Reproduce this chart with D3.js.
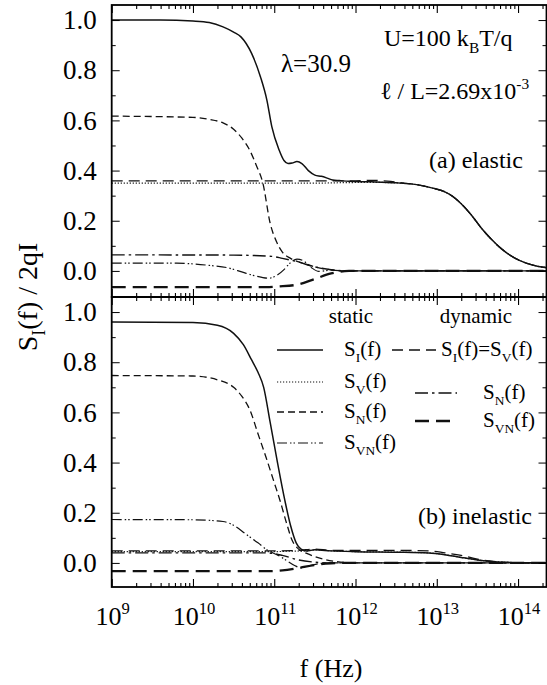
<!DOCTYPE html>
<meta charset="utf-8">
<script src="https://d3js.org/d3.v7.min.js"></script>
<body style="margin:0;background:#fff">
<div id="chart"></div>
<script>

// frequency decades on the x axis (log10 of f in Hz)
var decades = [9, 10, 11, 12, 13, 14];
var yTicks = [0, 0.2, 0.4, 0.6, 0.8, 1.0];

// ---- (a) elastic : points are [log10 f, S/2qI] ----
var aStaticSI = [[9,1.0],[9.6,1.0],[10.0,0.996],[10.2,0.99],[10.37,0.973],[10.5,0.952],[10.59,0.933],[10.72,0.868],[10.83,0.774],[10.91,0.68],[10.97,0.575],[11.06,0.482],[11.12,0.44],[11.17,0.428],[11.22,0.43],[11.28,0.436],[11.34,0.428],[11.42,0.40],[11.5,0.382],[11.58,0.377],[11.65,0.37],[11.72,0.362],[11.8,0.36],[11.92,0.357],[12.2,0.355],[12.5,0.351],[12.77,0.343],[12.95,0.33],[13.1,0.315],[13.2,0.296],[13.3,0.268],[13.42,0.225],[13.55,0.17],[13.66,0.13],[13.8,0.087],[13.95,0.053],[14.1,0.031],[14.25,0.018],[14.35,0.013]];
var aStaticSV = [[9,0.35],[11.5,0.35],[11.9,0.352],[12.2,0.353],[12.5,0.351],[12.77,0.343],[12.95,0.33],[13.1,0.315],[13.2,0.296],[13.3,0.268],[13.42,0.225],[13.55,0.17],[13.66,0.13],[13.8,0.087],[13.95,0.053],[14.1,0.031],[14.25,0.018],[14.35,0.013]];
var aStaticSN = [[9,0.617],[10.0,0.612],[10.2,0.604],[10.37,0.59],[10.5,0.565],[10.6,0.53],[10.7,0.48],[10.78,0.42],[10.86,0.35],[10.95,0.19],[11.03,0.115],[11.1,0.075],[11.2,0.05],[11.33,0.033],[11.44,0.022],[11.55,0.012],[11.7,0.004],[11.85,0.0],[14.35,0.0]];
var aStaticSVN = [[9,0.031],[9.8,0.031],[10.0,0.028],[10.2,0.022],[10.42,0.013],[10.6,-0.004],[10.72,-0.016],[10.85,-0.026],[10.93,-0.029],[11.02,-0.02],[11.12,0.005],[11.19,0.03],[11.28,0.047],[11.36,0.04],[11.45,0.015],[11.55,-0.002],[11.7,0.003],[11.9,0.0],[14.35,0.0]];
var aDynSI = [[9,0.359],[12.0,0.359],[12.2,0.361],[12.39,0.358],[12.6,0.35],[12.77,0.343],[12.95,0.33],[13.1,0.315],[13.2,0.296],[13.3,0.268],[13.42,0.225],[13.55,0.17],[13.66,0.13],[13.8,0.087],[13.95,0.053],[14.1,0.031],[14.25,0.018],[14.35,0.013]];
var aDynSN = [[9,0.064],[10.5,0.063],[10.97,0.058],[11.1,0.05],[11.28,0.037],[11.49,0.017],[11.7,0.005],[11.9,0.0],[14.35,0.0]];
var aDynSVN = [[9,-0.065],[10.9,-0.065],[11.05,-0.062],[11.28,-0.055],[11.49,-0.033],[11.7,-0.01],[11.92,0.0],[14.35,0.0]];

// ---- (b) inelastic ----
var bStaticSI = [[9,0.96],[10.0,0.958],[10.3,0.947],[10.5,0.915],[10.62,0.87],[10.72,0.81],[10.8,0.76],[10.87,0.7],[10.95,0.56],[11.04,0.4],[11.13,0.25],[11.2,0.15],[11.27,0.08],[11.33,0.055],[11.4,0.048],[11.5,0.052],[11.7,0.048],[12.0,0.045],[12.5,0.043],[12.9,0.04],[13.1,0.033],[13.3,0.022],[13.5,0.012],[13.7,0.005],[14.0,0.001],[14.35,0.0]];
var bStaticSV = [[9,0.045],[11.0,0.045],[11.2,0.047],[11.4,0.048],[11.5,0.052],[11.7,0.048],[12.0,0.045],[12.5,0.043],[12.9,0.04],[13.1,0.033],[13.3,0.022],[13.5,0.012],[13.7,0.005],[14.0,0.001],[14.35,0.0]];
var bStaticSN = [[9,0.747],[10.0,0.745],[10.3,0.73],[10.5,0.70],[10.6,0.665],[10.7,0.61],[10.8,0.515],[10.9,0.42],[11.0,0.32],[11.07,0.25],[11.15,0.16],[11.22,0.09],[11.3,0.055],[11.4,0.038],[11.55,0.02],[11.75,0.006],[12.0,0.0],[14.35,0.0]];
var bStaticSVN = [[9,0.173],[10.0,0.172],[10.37,0.165],[10.5,0.15],[10.65,0.115],[10.8,0.08],[10.92,0.05],[11.05,0.03],[11.15,0.01],[11.25,-0.01],[11.33,-0.02],[11.42,-0.012],[11.55,-0.003],[11.7,0.0],[14.35,0.0]];
var bDynSI = [[9,0.048],[11.0,0.048],[11.3,0.05],[11.5,0.055],[11.7,0.05],[12.5,0.05],[12.9,0.048],[13.1,0.04],[13.3,0.03],[13.5,0.015],[13.7,0.006],[14.0,0.001],[14.35,0.0]];
var bDynSN = [[9,0.04],[10.9,0.04],[11.1,0.03],[11.3,0.012],[11.5,0.003],[11.7,0.0],[14.35,0.0]];
var bDynSVN = [[9,-0.033],[10.95,-0.033],[11.1,-0.03],[11.3,-0.02],[11.5,-0.008],[11.7,-0.002],[11.9,0.0],[14.35,0.0]];

// line styles: static solid/dotted/dashed/dash-dot-dot, dynamic dashed/dash-dot/long dash
var styles = {
  sSI:  {dash: null, w: 1.5},
  sSV:  {dash: "1.2,1.8", w: 1.2},
  sSN:  {dash: "7,4", w: 1.3},
  sSVN: {dash: "10,3,1.5,2,1.5,3", w: 1.2},
  dSI:  {dash: "11,6", w: 1.3},
  dSN:  {dash: "13,4,2.5,4", w: 1.4},
  dSVN: {dash: "14,7", w: 2.3}
};

var FONT = "Liberation Serif";
var W = 547, H = 685;
var left = 111.7, right = 546.5;

var svg = d3.select("#chart").append("svg")
  .attr("width", W).attr("height", H);

var x = d3.scaleLog()
  .domain([1e9, Math.pow(10, 14.35)])
  .range([left, right]);

var panels = [
  {top: 5, bottom: 297, dom: [-0.104, 1.06], key: "a",
   curves: [["dSVN", aDynSVN], ["dSN", aDynSN], ["sSVN", aStaticSVN], ["sSV", aStaticSV], ["sSN", aStaticSN], ["dSI", aDynSI], ["sSI", aStaticSI]]},
  {top: 297, bottom: 587, dom: [-0.096, 1.06], key: "b",
   curves: [["dSVN", bDynSVN], ["dSN", bDynSN], ["sSVN", bStaticSVN], ["sSV", bStaticSV], ["sSN", bStaticSN], ["dSI", bDynSI], ["sSI", bStaticSI]]}
];

// minor tick positions on the log axis
var minorX = [];
decades.concat([8]).forEach(function(d) {
  for (var k = 2; k <= 9; k++) {
    var v = k * Math.pow(10, d);
    if (v > x.domain()[0] && v < x.domain()[1]) minorX.push(v);
  }
});
var majorX = decades.map(function(d) { return Math.pow(10, d); });

panels.forEach(function(p) {
  var y = d3.scaleLinear().domain(p.dom).range([p.bottom, p.top]);
  var g = svg.append("g");

  var clipId = "clip" + p.key;
  g.append("clipPath").attr("id", clipId).append("rect")
    .attr("x", left).attr("y", p.top).attr("width", right - left).attr("height", p.bottom - p.top);

  var line = d3.line()
    .x(function(d) { return x(Math.pow(10, d[0])); })
    .y(function(d) { return y(d[1]); })
    .curve(d3.curveMonotoneX);

  g.append("g").attr("clip-path", "url(#" + clipId + ")")
    .selectAll("path").data(p.curves).enter().append("path")
      .attr("d", function(c) { return line(c[1]); })
      .attr("fill", "none")
      .attr("stroke", "#111")
      .attr("stroke-width", function(c) { return styles[c[0]].w; })
      .attr("stroke-dasharray", function(c) { return styles[c[0]].dash; });

  // x ticks, inward on top and bottom
  function xAxis(gen, size, vals, yy) {
    g.append("g").attr("transform", "translate(0," + yy + ")")
      .call(gen(x).tickValues(vals).tickSize(size).tickFormat(""))
      .call(function(s) { s.select(".domain").remove(); s.selectAll("line").attr("stroke-width", 1.1); });
  }
  xAxis(d3.axisBottom, -8, majorX, p.bottom);
  xAxis(d3.axisBottom, -4, minorX, p.bottom);
  xAxis(d3.axisTop, -8, majorX, p.top);
  xAxis(d3.axisTop, -4, minorX, p.top);

  // y ticks
  var minorY = [-0.1, 0.1, 0.3, 0.5, 0.7, 0.9].filter(function(v) { return v > p.dom[0]; });
  g.append("g").attr("transform", "translate(" + left + ",0)")
    .call(d3.axisLeft(y).tickValues(yTicks).tickSize(-8).tickPadding(15).tickFormat(d3.format(".1f")))
    .call(function(s) {
      s.select(".domain").remove();
      s.attr("font-family", FONT).attr("font-size", 27);
      s.selectAll("text").attr("font-family", FONT).style("font-size", "27px");
    });
  g.append("g").attr("transform", "translate(" + left + ",0)")
    .call(d3.axisLeft(y).tickValues(minorY).tickSize(-4).tickFormat(""))
    .call(function(s) { s.select(".domain").remove(); });
  g.append("g").attr("transform", "translate(" + right + ",0)")
    .call(d3.axisRight(y).tickValues(yTicks).tickSize(-8).tickFormat(""))
    .call(function(s) { s.select(".domain").remove(); });
  g.append("g").attr("transform", "translate(" + right + ",0)")
    .call(d3.axisRight(y).tickValues(minorY).tickSize(-4).tickFormat(""))
    .call(function(s) { s.select(".domain").remove(); });

  g.append("rect")
    .attr("x", left).attr("y", p.top)
    .attr("width", right - left).attr("height", p.bottom - p.top)
    .attr("fill", "none").attr("stroke", "#000").attr("stroke-width", 1.8);
});

// text with sub/superscripts: parts = [[string, "sub"|"sup"|undefined], ...]
function rich(x0, y0, parts, size, anchor, parent) {
  var t = (parent || svg).append("text")
    .attr("x", x0).attr("y", y0)
    .attr("font-family", FONT)
    .style("font-size", size + "px")
    .attr("text-anchor", anchor || "start");
  var shift = 0;
  parts.forEach(function(pt) {
    var target = pt[1] === "sub" ? 0.3 * size : pt[1] === "sup" ? -0.42 * size : 0;
    t.append("tspan")
      .attr("dy", target - shift)
      .style("font-size", pt[1] ? (0.64 * size) + "px" : size + "px")
      .text(pt[0]);
    shift = target;
  });
  return t;
}

// x tick labels 10^n
decades.forEach(function(d) {
  rich(x(Math.pow(10, d)) + 1, 625, [["10"], [String(d), "sup"]], 26, "middle");
});

rich(331, 677, [["f (Hz)"]], 26, "middle");

var yl = svg.append("g").attr("transform", "translate(37,297) rotate(-90)");
rich(0, 0, [["S"], ["I", "sub"], ["(f) / 2qI"]], 28, "middle", yl);

// annotations panel (a)
rich(281, 72, [["λ=30.9"]], 25);
rich(384, 46, [["U=100 k"], ["B", "sub"], ["T/q"]], 24);
rich(380, 99, [["ℓ / L=2.69x10"], ["-3", "sup"]], 24);
rich(429, 168, [["(a) elastic"]], 24);
rich(418, 524, [["(b) inelastic"]], 24);

// legend in panel (b)
var legFont = 21;
rich(351, 323, [["static"]], legFont, "middle");
rich(476, 323, [["dynamic"]], legFont, "middle");

var legStatic = [
  ["sSI", 350, [["S"], ["I", "sub"], ["(f)"]]],
  ["sSV", 382, [["S"], ["V", "sub"], ["(f)"]]],
  ["sSN", 412, [["S"], ["N", "sub"], ["(f)"]]],
  ["sSVN", 443, [["S"], ["VN", "sub"], ["(f)"]]]
];
legStatic.forEach(function(l) {
  svg.append("line").attr("x1", 277).attr("x2", 323).attr("y1", l[1]).attr("y2", l[1])
    .attr("stroke", "#111").attr("stroke-width", styles[l[0]].w)
    .attr("stroke-dasharray", styles[l[0]].dash);
  rich(344, l[1] + 6, l[2], legFont);
});

var legDyn = [
  ["dSI", 350, 392, 436, 441, [["S"], ["I", "sub"], ["(f)=S"], ["V", "sub"], ["(f)"]]],
  ["dSN", 393, 415, 457, 483, [["S"], ["N", "sub"], ["(f)"]]],
  ["dSVN", 421, 415, 457, 483, [["S"], ["VN", "sub"], ["(f)"]]]
];
legDyn.forEach(function(l) {
  svg.append("line").attr("x1", l[2]).attr("x2", l[3]).attr("y1", l[1]).attr("y2", l[1])
    .attr("stroke", "#111").attr("stroke-width", styles[l[0]].w)
    .attr("stroke-dasharray", styles[l[0]].dash);
  rich(l[4], l[1] + 6, l[5], legFont);
});

</script>
</body>
